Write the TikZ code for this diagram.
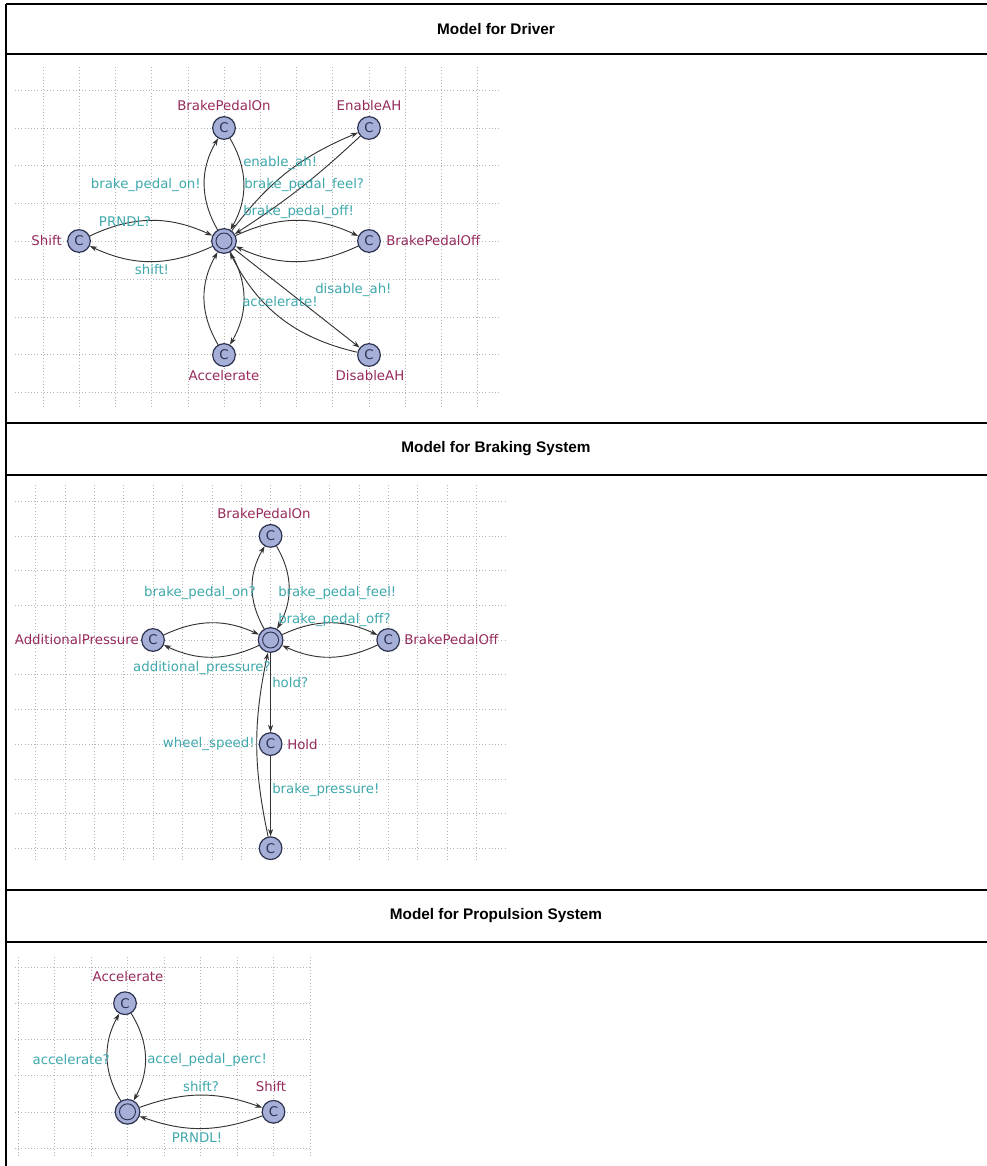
\documentclass[tikz,border=0pt]{standalone}
\usepackage{fontspec}
\setmainfont{DejaVu Sans}
\newfontfamily\hdfont{Liberation Sans}
\usetikzlibrary{arrows.meta}
\definecolor{locfill}{RGB}{166,175,216}
\definecolor{locdraw}{RGB}{45,50,80}
\definecolor{namecol}{RGB}{150,42,92}
\definecolor{synccol}{RGB}{62,168,172}
\definecolor{gridcol}{RGB}{180,180,180}
\begin{document}
\begin{tikzpicture}[x=0.75pt,y=-0.75pt,
  loc/.style={circle,draw=locdraw,fill=locfill,line width=0.9pt,minimum size=17pt,inner sep=0pt,text=locdraw,font=\fontsize{10}{10}\selectfont},
  initloc/.style={circle,draw=locdraw,fill=locfill,line width=0.9pt,minimum size=18.5pt,inner sep=0pt,
    path picture={\draw[locdraw,line width=0.7pt] (path picture bounding box.center) circle (6pt);}},
  edge/.style={draw=black!80,line width=0.7pt,-{Stealth[length=5.5pt,width=3.8pt]}},
  locname/.style={text=namecol,font=\fontsize{10}{12}\selectfont,inner sep=0pt},
  sync/.style={text=synccol,font=\fontsize{10}{12}\selectfont,inner sep=0pt},
  gridline/.style={draw=gridcol,line width=0.4pt,dotted},
  frame/.style={draw=black,line width=1.1pt},
  header/.style={font=\hdfont\bfseries\fontsize{11.5}{13}\selectfont,inner sep=0pt}]
\useasboundingbox (0,0) rectangle (987,1166);
% ---------- table frame ----------
\draw[frame] (6,4) -- (987,4);
\draw[frame] (6,54) -- (987,54);
\draw[frame] (6,423) -- (987,423);
\draw[frame] (6,475) -- (987,475);
\draw[frame] (6,890) -- (987,890);
\draw[frame] (6,942) -- (987,942);
\draw[frame] (6,4) -- (6,1166);
\node[header] (h1) at (496,29) {Model for Driver};
\node[header] (h2) at (496,449) {Model for Braking System};
\node[header] (h3) at (496,916) {Model for Propulsion System};
% ---------- grids ----------
\foreach \k in {0,...,8} \draw[gridline] (15,{90+37.8*\k}) -- (500,{90+37.8*\k});
\foreach \k in {0,...,12} \draw[gridline] ({43+36.2*\k},67) -- ({43+36.2*\k},407);
\foreach \k in {0,...,10} \draw[gridline] (15,{501.2+34.7*\k}) -- (507,{501.2+34.7*\k});
\foreach \k in {0,...,15} \draw[gridline] ({35.4+29.4*\k},485) -- ({35.4+29.4*\k},862);
\foreach \k in {0,...,5} \draw[gridline] (15,{967+36.2*\k}) -- (310,{967+36.2*\k});
\foreach \k in {0,...,8} \draw[gridline] ({18+36.5*\k},957) -- ({18+36.5*\k},1158);
% ---------- Driver ----------
\node[initloc] (d0) at (224,241) {};
\node[loc] (dbpon) at (224,128) {C};
\node[loc] (denah) at (369,128) {C};
\node[loc] (dshift) at (79,241) {C};
\node[loc] (dbpoff) at (369,241) {C};
\node[loc] (dacc) at (224,355) {C};
\node[loc] (ddisah) at (369,355) {C};
\node[locname] (ndbpon) at (224,106) {BrakePedalOn};
\node[locname] (ndenah) at (369,106) {EnableAH};
\node[locname,anchor=east] (ndshift) at (62,241) {Shift};
\node[locname,anchor=west] (ndbpoff) at (386,241) {BrakePedalOff};
\node[locname] (ndacc) at (224,376) {Accelerate};
\node[locname] (nddisah) at (370,376) {DisableAH};
\draw[edge] (d0) to[bend left=30] (dbpon);
\draw[edge] (dbpon) to[bend left=30] (d0);
\draw[edge] (d0) to[bend left=15] (denah);
\draw[edge] (denah) to[bend left=5] (d0);
\draw[edge] (d0) to[bend left=25] (dbpoff);
\draw[edge] (dbpoff) to[bend left=25] (d0);
\draw[edge] (dshift) to[bend left=25] (d0);
\draw[edge] (d0) to[bend left=25] (dshift);
\draw[edge] (d0) to[bend left=30] (dacc);
\draw[edge] (dacc) to[bend left=30] (d0);
\draw[edge] (d0) -- (ddisah);
\draw[edge] (ddisah) to[bend left=25] (d0);
\node[sync,anchor=east] (sd1) at (201,185) {brake\_pedal\_on!};
\node[sync,anchor=west] (sd2) at (244,185) {brake\_pedal\_feel?};
\node[sync,anchor=west] (sd3) at (243,163) {enable\_ah!};
\node[sync,anchor=west] (sd4) at (243,212) {brake\_pedal\_off!};
\node[sync] (sd5) at (125,222) {PRNDL?};
\node[sync] (sd6) at (152,270) {shift!};
\node[sync,anchor=west] (sd7) at (242,302) {accelerate!};
\node[sync,anchor=west] (sd8) at (315,290) {disable\_ah!};
% ---------- Braking System ----------
\node[initloc] (b0) at (270.6,640) {};
\node[loc] (bbpon) at (270.6,535.9) {C};
\node[loc] (baddp) at (153,640) {C};
\node[loc] (bbpoff) at (388.2,640) {C};
\node[loc] (bhold) at (270.6,744.1) {C};
\node[loc] (bbot) at (270.6,848.2) {C};
\node[locname] (nbbpon) at (264,514) {BrakePedalOn};
\node[locname,anchor=east] (nbaddp) at (139,640) {AdditionalPressure};
\node[locname,anchor=west] (nbbpoff) at (404,640) {BrakePedalOff};
\node[locname,anchor=west] (nbhold) at (287,744.1) {Hold};
\draw[edge] (b0) to[bend left=30] (bbpon);
\draw[edge] (bbpon) to[bend left=30] (b0);
\draw[edge] (b0) to[bend left=25] (bbpoff);
\draw[edge] (bbpoff) to[bend left=25] (b0);
\draw[edge] (baddp) to[bend left=25] (b0);
\draw[edge] (b0) to[bend left=25] (baddp);
\draw[edge] (b0) -- (bhold);
\draw[edge] (bhold) -- (bbot);
\draw[edge] (bbot) to[bend left=12] (b0);
\node[sync,anchor=east] (sb1) at (256,593) {brake\_pedal\_on?};
\node[sync,anchor=west] (sb2) at (278,593) {brake\_pedal\_feel!};
\node[sync,anchor=west] (sb3) at (278,620) {brake\_pedal\_off?};
\node[sync,anchor=east] (sb4) at (271,668) {additional\_pressure?};
\node[sync,anchor=west] (sb5) at (272,683) {hold?};
\node[sync,anchor=east] (sb6) at (255,744.1) {wheel\_speed!};
\node[sync,anchor=west] (sb7) at (272,790) {brake\_pressure!};
% ---------- Propulsion System ----------
\node[initloc] (p0) at (127.5,1111.8) {};
\node[loc] (pacc) at (125,1003.2) {C};
\node[loc] (pshift) at (273.5,1111.8) {C};
\node[locname] (npacc) at (128,977) {Accelerate};
\node[locname] (npshift) at (271,1087) {Shift};
\draw[edge] (p0) to[bend left=30] (pacc);
\draw[edge] (pacc) to[bend left=30] (p0);
\draw[edge] (p0) to[bend left=20] (pshift);
\draw[edge] (pshift) to[bend left=20] (p0);
\node[sync,anchor=east] (sp1) at (110,1060) {accelerate?};
\node[sync,anchor=west] (sp2) at (147,1060) {accel\_pedal\_perc!};
\node[sync] (sp3) at (201,1087) {shift?};
\node[sync] (sp4) at (197,1138) {PRNDL!};
\end{tikzpicture}
\end{document}
